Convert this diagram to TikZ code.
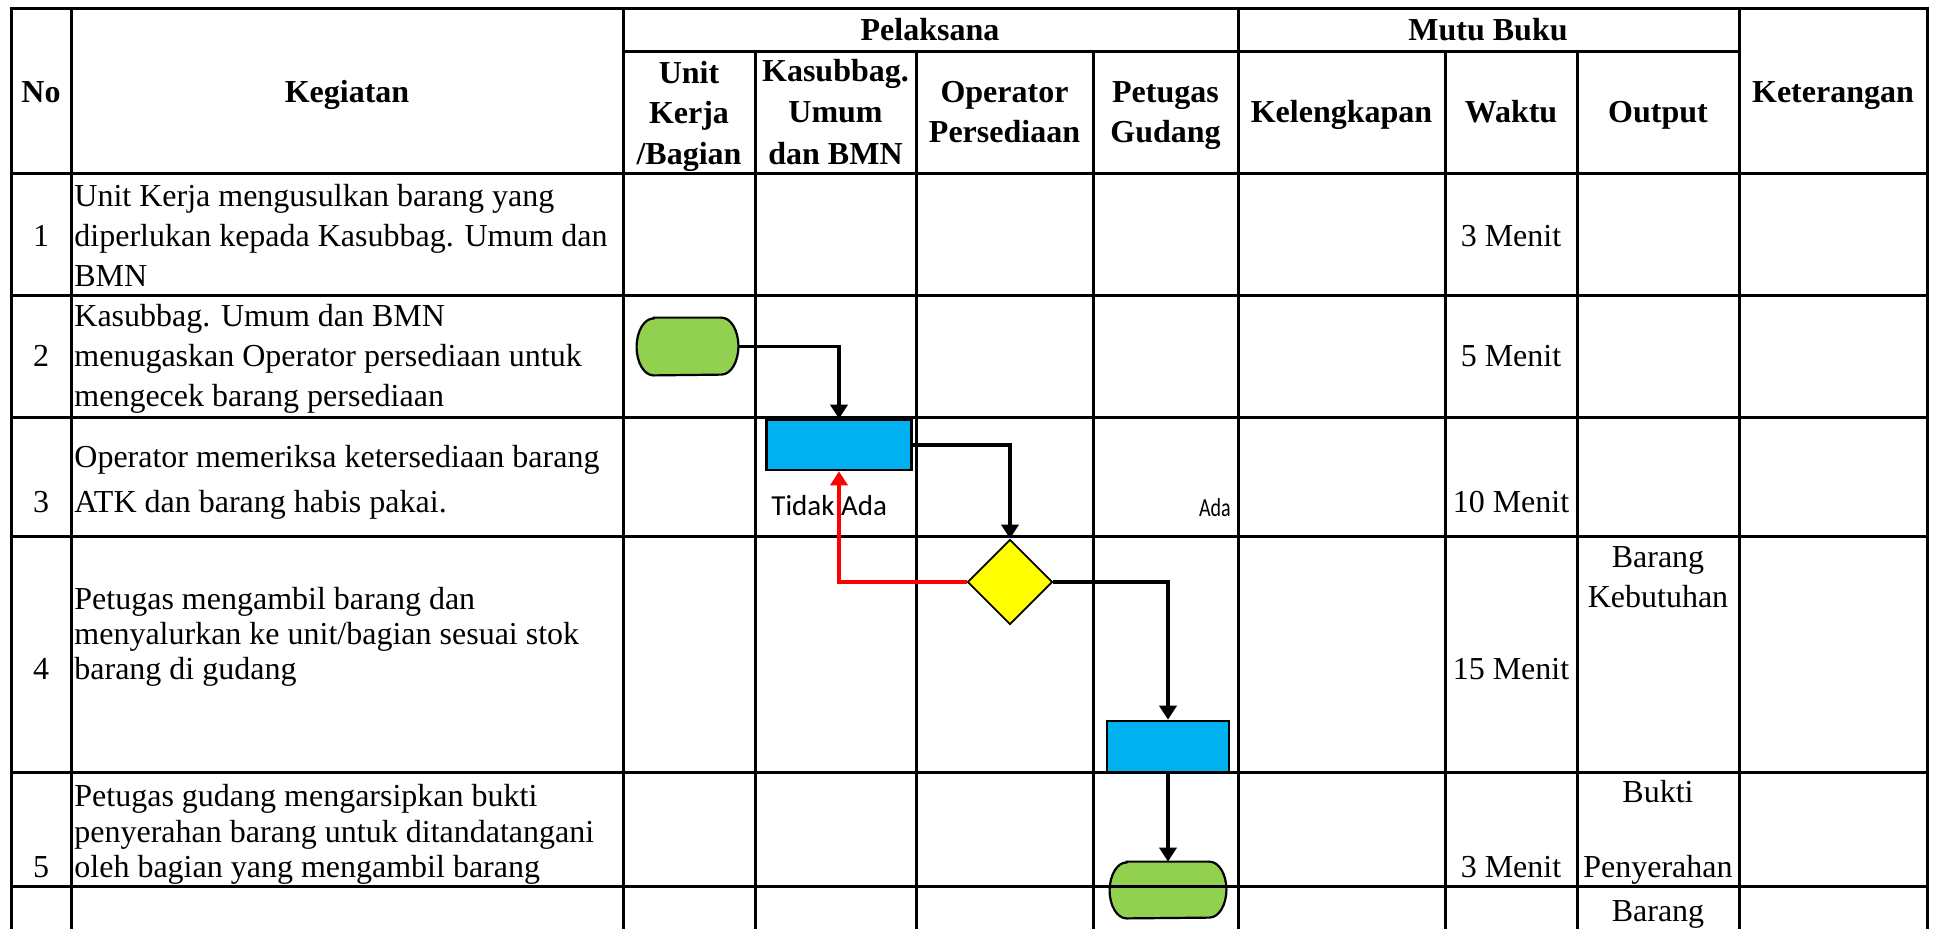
\documentclass[tikz,border=0pt]{standalone}
\usepackage{fontspec}
\setmainfont{Liberation Serif}
\newfontfamily\lblfont{Carlito}
\usetikzlibrary{shapes.geometric,arrows.meta}
\definecolor{tgreen}{HTML}{92D050}
\definecolor{pblue}{HTML}{00B0F0}
\definecolor{dyellow}{HTML}{FFFF00}
\tikzset{
  grid/.style={line width=1.5pt, line cap=rect},
  hd/.style={font=\fontsize{16}{18}\selectfont\bfseries, inner sep=0, anchor=mid, yshift=-2.5pt},
  bodyl/.style={font=\fontsize{16}{18}\selectfont, inner sep=0, anchor=mid west, yshift=-2.5pt},
  bodyc/.style={font=\fontsize{16}{18}\selectfont, inner sep=0, anchor=mid, yshift=-2.5pt},
  termbox/.style={rectangle, inner sep=0},
  termline/.style={draw, line width=1.1pt, fill=tgreen},
  procbox/.style={draw, line width=1.3pt, fill=pblue, rectangle, inner sep=0},
  decbox/.style={draw, line width=0.9pt, fill=dyellow, diamond, aspect=1, inner sep=0, minimum width=42.5pt, minimum height=42.5pt},
  conn/.style={line width=1.8pt, -{Triangle[width=8.5pt,length=7pt]}},
}
\begin{document}
\begin{tikzpicture}[x=0.5pt,y=-0.5pt]
\useasboundingbox (0,0) rectangle (1939,928);
\fill[white] (0,0) rectangle (1939,928);
% shapes
\node[termbox, minimum width=50.5pt, minimum height=28.5pt] (t1) at (687.5,346.5) {};
\filldraw[termline] ([xshift=8.5pt]t1.north west) -- ([xshift=-8.5pt]t1.north east)
  arc[start angle=90, end angle=-90, x radius=8.5pt, y radius=14.25pt]
  -- ([xshift=8.5pt]t1.south west)
  arc[start angle=270, end angle=90, x radius=8.5pt, y radius=14.25pt] -- cycle;
\node[procbox, minimum width=72.5pt, minimum height=25pt] (r1) at (839,445) {};
\node[decbox] (dia) at (1010,582) {};
\node[procbox, minimum width=61pt, minimum height=25.5pt] (r2) at (1168,746.5) {};
\node[termbox, minimum width=58pt, minimum height=28pt] (t2) at (1168,890) {};
\filldraw[termline] ([xshift=8.5pt]t2.north west) -- ([xshift=-8.5pt]t2.north east)
  arc[start angle=90, end angle=-90, x radius=8.5pt, y radius=14pt]
  -- ([xshift=8.5pt]t2.south west)
  arc[start angle=270, end angle=90, x radius=8.5pt, y radius=14pt] -- cycle;
% grid
\begin{scope}
\clip (0,0) rectangle (1939,928);
\foreach \yy in {8,173,295,417,536,772,886} \draw[grid] (11,\yy) -- (1927,\yy);
\draw[grid] (623,51) -- (1739,51);
\foreach \xx in {11,71,623,1238,1739,1927} \draw[grid] (\xx,8) -- (\xx,960);
\foreach \xx in {755,916,1093,1445,1577} \draw[grid] (\xx,51) -- (\xx,960);
\end{scope}
% connectors
\draw[conn] (t1.east) -| (r1.north);
\draw[conn] (r1.east) -| (dia.north);
\draw[conn, red] (dia.west) -| (r1.south);
\draw[conn] (dia.east) -| (r2.north);
\draw[conn] (r2.south) -- (t2.north);
% labels
\node[font=\lblfont\fontsize{14.5}{16}\selectfont, inner sep=0, anchor=base west] (lblno) at (771,515) {Tidak Ada};
\node[font=\lblfont\fontsize{13}{15}\selectfont, inner sep=0, anchor=base east, xscale=0.77] (lblyes) at (1231,516) {Ada};
% header
\node[hd] (hno) at (41,93) {No};
\node[hd] (hkeg) at (347,93) {Kegiatan};
\node[hd] (hpel) at (930,31) {Pelaksana};
\node[hd] (hmutu) at (1488,31) {Mutu Buku};
\node[hd] (hu1) at (689,74) {Unit};
\node[hd] (hu2) at (689,114) {Kerja};
\node[hd] (hu3) at (689,155) {/Bagian};
\node[hd] (hk1) at (835.5,72) {Kasubbag.};
\node[hd] (hk2) at (835.5,113) {Umum};
\node[hd] (hk3) at (835.5,155) {dan BMN};
\node[hd] (ho1) at (1004.5,93) {Operator};
\node[hd] (ho2) at (1004.5,133) {Persediaan};
\node[hd] (hp1) at (1165.5,93) {Petugas};
\node[hd] (hp2) at (1165.5,133) {Gudang};
\node[hd] (hkel) at (1341.5,113) {Kelengkapan};
\node[hd] (hwak) at (1511,113) {Waktu};
\node[hd] (hout) at (1658,113) {Output};
\node[hd] (hket) at (1833,93) {Keterangan};
% numbers
\node[bodyc] (n1) at (41,237) {1};
\node[bodyc] (n2) at (41,357) {2};
\node[bodyc] (n3) at (41,503) {3};
\node[bodyc] (n4) at (41,670) {4};
\node[bodyc] (n5) at (41,868) {5};
% kegiatan
\node[bodyl] (k1a) at (74,197) {Unit Kerja mengusulkan barang yang};
\node[bodyl] (k1b) at (74,237) {diperlukan kepada Kasubbag. Umum dan};
\node[bodyl] (k1c) at (74,277) {BMN};
\node[bodyl] (k2a) at (74,317) {Kasubbag. Umum dan BMN};
\node[bodyl] (k2b) at (74,357) {menugaskan Operator persediaan untuk};
\node[bodyl] (k2c) at (74,397) {mengecek barang persediaan};
\node[bodyl] (k3a) at (74,458) {Operator memeriksa ketersediaan barang};
\node[bodyl] (k3b) at (74,503) {ATK dan barang habis pakai.};
\node[bodyl] (k4a) at (74,600) {Petugas mengambil barang dan};
\node[bodyl] (k4b) at (74,635) {menyalurkan ke unit/bagian sesuai stok};
\node[bodyl] (k4c) at (74,670) {barang di gudang};
\node[bodyl] (k5a) at (74,797) {Petugas gudang mengarsipkan bukti};
\node[bodyl] (k5b) at (74,833) {penyerahan barang untuk ditandatangani};
\node[bodyl] (k5c) at (74,868) {oleh bagian yang mengambil barang};
% waktu
\node[bodyc] (w1) at (1511,237) {3 Menit};
\node[bodyc] (w2) at (1511,357) {5 Menit};
\node[bodyc] (w3) at (1511,503) {10 Menit};
\node[bodyc] (w4) at (1511,670) {15 Menit};
\node[bodyc] (w5) at (1511,868) {3 Menit};
% output
\node[bodyc] (o4a) at (1658,558) {Barang};
\node[bodyc] (o4b) at (1658,598) {Kebutuhan};
\node[bodyc] (o5a) at (1658,793) {Bukti};
\node[bodyc] (o5b) at (1658,868) {Penyerahan};
\node[bodyc] (o6a) at (1658,912) {Barang};
\end{tikzpicture}
\end{document}
